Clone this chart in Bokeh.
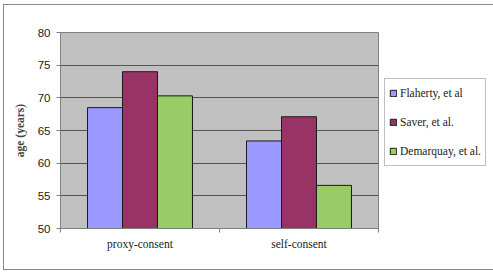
import numpy as np
from bokeh.plotting import figure
from bokeh.models import FixedTicker, Legend, LegendItem, Range1d
from bokeh.embed import file_html
from bokeh.resources import INLINE

categories = ["proxy-consent", "self-consent"]
series = ["Flaherty, et al", "Saver, et al.", "Demarquay, et al."]
flaherty = [68.5, 63.4]
saver = [74.0, 67.1]
demarquay = [70.3, 56.6]
colors = ["#9999FF", "#993366", "#99CC66"]
y_ticks = [50, 55, 60, 65, 70, 75, 80]

p = figure(frame_width=318, frame_height=196, output_backend="svg", toolbar_location=None,
           x_range=Range1d(0, len(categories)), y_range=Range1d(50, 80),
           min_border_left=56, min_border_right=108, min_border_top=27, min_border_bottom=41)
p.styles = {"border": "1px solid #8a8a8a", "margin-left": "3px", "margin-top": "4px"}
p.background_fill_color = "#C0C0C0"
p.border_fill_color = "white"
p.outline_line_color = "#808080"

centers = np.arange(len(categories)) + 0.5
bw = 0.22
items = []
for i, (vals, name) in enumerate(zip([flaherty, saver, demarquay], series)):
    xs = centers + (i - 1) * bw
    r = p.vbar(x=xs, top=vals, bottom=50, width=bw, fill_color=colors[i],
               line_color="#1a1a1a", line_width=1)
    items.append(LegendItem(label=name, renderers=[r]))

p.xgrid.visible = False
p.ygrid.grid_line_color = "#555555"
p.ygrid.grid_line_width = 1
p.yaxis.ticker = FixedTicker(ticks=y_ticks)

xt = FixedTicker(ticks=list(centers), minor_ticks=list(range(len(categories) + 1)))
p.xaxis.ticker = xt
p.xaxis.major_label_overrides = {float(c): cat for c, cat in zip(centers, categories)}
p.xaxis.major_tick_line_color = None
p.xaxis.minor_tick_line_color = "#808080"
p.xaxis.minor_tick_out = 4
p.xaxis.minor_tick_in = 0
p.xaxis.axis_line_color = "#808080"
p.xaxis.major_label_text_font = "Liberation Serif"
p.xaxis.major_label_text_font_size = "11.5px"
p.xaxis.major_label_text_color = "#222222"
p.xaxis.major_label_standoff = 3

p.yaxis.axis_line_color = "#808080"
p.yaxis.major_tick_line_color = "#808080"
p.yaxis.major_tick_out = 4
p.yaxis.major_tick_in = 0
p.yaxis.minor_tick_line_color = None
p.yaxis.major_label_text_font = "Liberation Sans"
p.yaxis.major_label_text_font_size = "11.5px"
p.yaxis.major_label_text_color = "#222222"
p.yaxis.major_label_standoff = 6
p.yaxis.axis_label = "age (years)"
p.yaxis.axis_label_text_font = "Liberation Serif"
p.yaxis.axis_label_text_font_style = "bold"
p.yaxis.axis_label_text_font_size = "11.5px"
p.yaxis.axis_label_standoff = 9

legend = Legend(items=items, location=(6, 62))
legend.label_text_font = "Liberation Serif"
legend.label_text_font_size = "11.5px"
legend.label_text_color = "#222222"
legend.glyph_width = 8
legend.glyph_height = 8
legend.label_height = 20
legend.spacing = 9
legend.padding = 4
legend.margin = 0
legend.label_standoff = 3
legend.border_line_color = "#808080"
legend.background_fill_color = "white"
legend.background_fill_alpha = 1
p.add_layout(legend, "right")

open("out.html", "w").write(file_html(p, INLINE))
